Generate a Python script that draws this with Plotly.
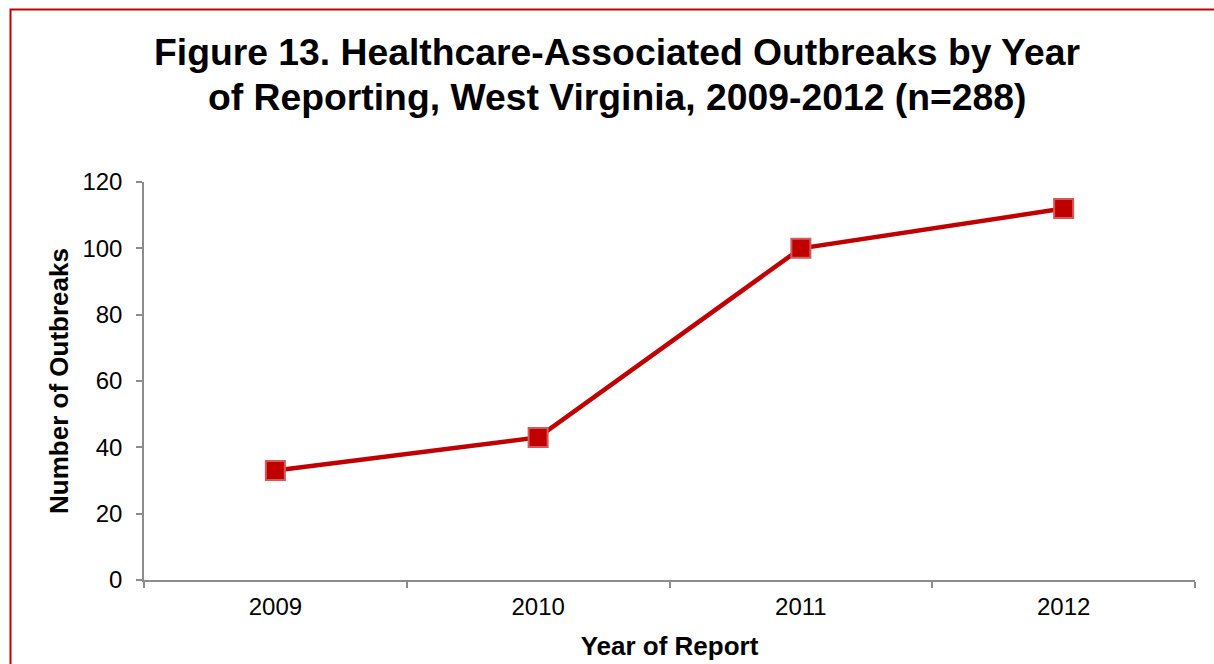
import plotly.graph_objects as go

years = ["2009", "2010", "2011", "2012"]
outbreaks = [33, 43, 100, 112]

y_ticks = [0, 20, 40, 60, 80, 100, 120]

title_lines = [
    "Figure 13. Healthcare-Associated Outbreaks by Year",
    "of Reporting, West Virginia, 2009-2012 (n=288)",
]

RED = "#C00000"
AXIS_GRAY = "#8C8C8C"
FONT = "Liberation Sans, Arial, sans-serif"

fig = go.Figure()
fig.add_trace(go.Scatter(
    x=years,
    y=outbreaks,
    mode="lines+markers",
    line=dict(color=RED, width=4.5),
    marker=dict(symbol="square", size=19, color=RED,
                line=dict(color="#D25A5A", width=2)),
    hoverinfo="x+y",
    showlegend=False,
))

W, H = 1214, 664
L, R, T, B = 144, 19, 182, 84
pw, ph = W - L - R, H - T - B


def px_x(px):
    return (px - L) / pw


def px_y(py):
    return (H - B - py) / ph


# outer frame of the chart area (extends past the right/bottom edge)
fig.add_shape(
    type="rect", xref="paper", yref="paper",
    x0=px_x(10.5), x1=px_x(1230),
    y0=px_y(680), y1=px_y(9.5),
    line=dict(color=RED, width=2), fillcolor="rgba(0,0,0,0)", layer="below",
)

# two-line heading
for text, cy in zip(title_lines, [52, 97]):
    fig.add_annotation(
        text=f"<b>{text}</b>", xref="paper", yref="paper",
        x=px_x(617), y=px_y(cy), xanchor="center", yanchor="middle",
        showarrow=False, font=dict(size=37.3, family=FONT, color="black"),
    )

fig.update_layout(
    width=W, height=H,
    margin=dict(l=L, r=R, t=T, b=B),
    paper_bgcolor="white", plot_bgcolor="white",
    font=dict(family=FONT, color="black"),
    xaxis=dict(
        type="category",
        range=[-0.5, 3.5],
        tickson="boundaries",
        automargin=False,
        ticks="outside", ticklen=6, tickwidth=1.5, tickcolor=AXIS_GRAY,
        showline=True, linecolor=AXIS_GRAY, linewidth=1.5,
        showgrid=False, zeroline=False,
        ticklabelstandoff=4,
        tickfont=dict(size=24, family=FONT, color="black"),
        title=dict(text="<b>Year of Report</b>", standoff=18,
                   font=dict(size=26, family=FONT, color="black")),
    ),
    yaxis=dict(
        range=[0, 120],
        tickvals=y_ticks,
        automargin=False,
        ticks="outside", ticklen=6, tickwidth=1.5, tickcolor=AXIS_GRAY,
        showline=True, linecolor=AXIS_GRAY, linewidth=1.5,
        showgrid=False, zeroline=False,
        ticklabelstandoff=9,
        tickfont=dict(size=24, family=FONT, color="black"),
        title=dict(text="<b>Number of Outbreaks</b>", standoff=6,
                   font=dict(size=26, family=FONT, color="black")),
    ),
)

fig.write_html("out.html")
